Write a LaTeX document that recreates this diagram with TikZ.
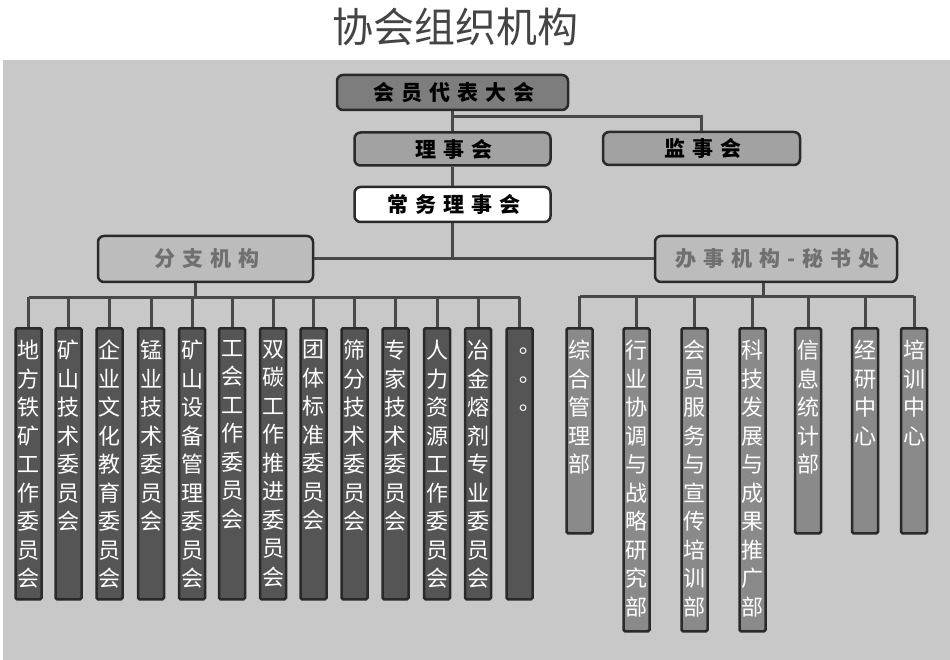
\documentclass[tikz,border=0pt]{standalone}
\usepackage{fontspec}
\setmainfont{Noto Sans CJK SC}
\newfontfamily\headfont[LetterSpace=33]{Noto Sans CJK SC}
\newfontfamily\dotfont{Noto Sans CJK TC}
\usetikzlibrary{positioning}

\definecolor{bggray}{HTML}{C8C8C8}
\definecolor{linegray}{HTML}{484848}
\definecolor{boxline}{HTML}{2A2A2A}
\definecolor{topgray}{HTML}{7D7D7D}
\definecolor{midgray}{HTML}{A2A2A2}
\definecolor{paleagray}{HTML}{BCBCBC}
\definecolor{palettext}{HTML}{707070}
\definecolor{leftgray}{HTML}{555555}
\definecolor{rightgray}{HTML}{8A8A8A}
\definecolor{titlegray}{HTML}{444444}

% stack the characters of a word one below the other
\makeatletter
\newcommand\vstack[1]{\let\vs@sep\relax\@tfor\vs@c:=#1\do{\vs@sep\vs@c\let\vs@sep\\}}
\makeatother

\begin{document}
\begin{tikzpicture}[
  x=1pt, y=-1pt,
  head/.style={draw=boxline, line width=2.5pt, rounded corners=6pt, inner sep=0pt,
    font=\headfont\bfseries\fontsize{21}{24}\selectfont},
  col/.style={draw=boxline, line width=2.5pt, rounded corners=1.5pt, inner sep=0pt,
    minimum width=26pt, anchor=north},
  coltext/.style={text=white, align=center, text width=26pt, inner sep=0pt, anchor=north,
    font=\fontsize{22}{28.5}\selectfont},
  link/.style={draw=linegray, line width=3pt}
]
\useasboundingbox (0,0) rectangle (950,660);
\fill[bggray] (3,60) rectangle (950,660);

\node[text=titlegray, font=\fontsize{41}{44}\selectfont] (title) at (455,27) {协会组织机构};

% top of the tree
\node[head, fill=topgray, minimum width=231pt, minimum height=35pt] (dahui) at (452.5,92.5) {\hspace*{3.5pt}会员代表大会};
\node[head, fill=midgray, minimum width=196pt, minimum height=33pt, below=20pt of dahui] (lishi) {\hspace*{3.5pt}理事会};
\node[head, fill=midgray, minimum width=197pt, minimum height=33pt] (jianshi) at (701.5,148.5) {\hspace*{3.5pt}监事会};
\node[head, fill=white, minimum width=196pt, minimum height=35pt, below=19pt of lishi] (changwu) {\hspace*{3.5pt}常务理事会};
\node[head, fill=paleagray, text=palettext, minimum width=215pt, minimum height=46pt] (fenzhi) at (205.5,259) {\hspace*{3.5pt}分支机构};
\node[head, fill=paleagray, text=palettext, minimum width=242pt, minimum height=46pt] (banshi) at (776,259) {\hspace*{3.5pt}办事机构-秘书处};

\coordinate (split) at (452,117);
\coordinate (lbus) at (0,297);
\coordinate (rbus) at (0,296);

\draw[link] (dahui) -- (lishi);
\draw[link] (split) -| (jianshi.north);
\draw[link] (lishi) -- (changwu);
\draw[link] (changwu.south) -- (changwu.south |- fenzhi.east);
\draw[link] (fenzhi.east) -- (banshi.west);

% branch committees
\foreach \n/\x/\t in {1/28.5/地方铁矿工作委员会, 2/68.5/矿山技术委员会, 3/109.5/企业文化教育委员会,
    4/151/锰业技术委员会, 5/192/矿山设备管理委员会, 6/232/工会工作委员会, 7/273/双碳工作推进委员会,
    8/313.5/团体标准委员会, 9/354.5/筛分技术委员会, 10/395.5/专家技术委员会,
    11/437/人力资源工作委员会, 12/478/冶金熔剂专业委员会}
{
  \node[col, fill=leftgray, minimum height=271pt] (left\n) at (\x,327) {};
  \node[coltext] (lefttext\n) at ([yshift=-13pt]left\n.north) {\expandafter\vstack\expandafter{\t}};
  \draw[link] (left\n.north) -- (left\n.north |- lbus);
}
\node[col, fill=leftgray, minimum height=271pt] (left13) at (519.5,327) {};
\node[coltext, font=\dotfont\fontsize{22}{28.5}\selectfont] (lefttext13) at ([xshift=4pt, yshift=-21pt]left13.north) {。\\。\\。};
\draw[link] (left13.north) -- (left13.north |- lbus);
\draw[link] (left1.north |- lbus) -- (left13.north |- lbus);
\draw[link] ([xshift=-10pt]fenzhi.south) -- ([xshift=-10pt]fenzhi.south |- lbus);

% secretariat departments
\foreach \n/\x/\h/\t in {1/579.5/205/综合管理部, 2/636.5/303/行业协调与战略研究部, 3/694.5/303/会员服务与宣传培训部,
    4/752.5/303/科技发展与成果推广部, 5/808/205/信息统计部, 6/865/205/经研中心, 7/914/205/培训中心}
{
  \node[col, fill=rightgray, minimum height=\h pt] (right\n) at (\x,327) {};
  \node[coltext] (righttext\n) at ([yshift=-13pt]right\n.north) {\expandafter\vstack\expandafter{\t}};
  \draw[link] (right\n.north) -- (right\n.north |- rbus);
}
\draw[link] (right1.north |- rbus) -- (right7.north |- rbus);
\draw[link] ([xshift=-13pt]banshi.south) -- ([xshift=-13pt]banshi.south |- rbus);
\end{tikzpicture}
\end{document}
